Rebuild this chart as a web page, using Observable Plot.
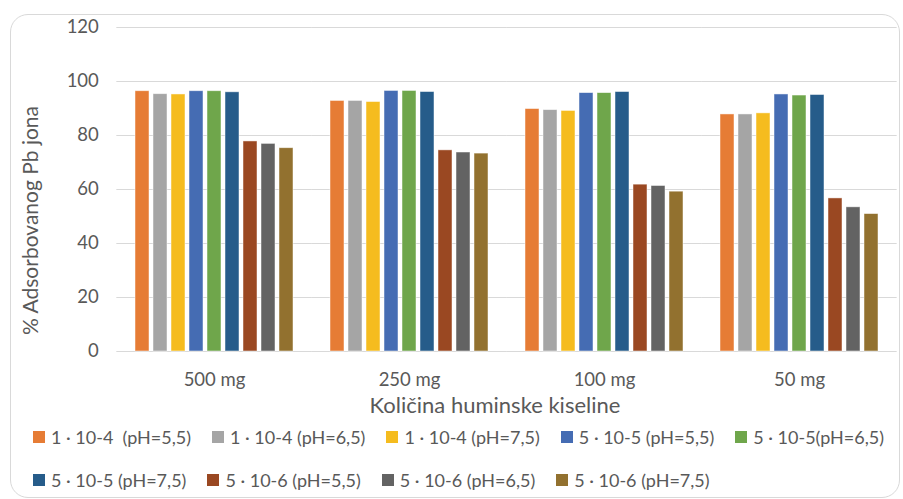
<!DOCTYPE html>
<html>
<head>
<meta charset="utf-8">
<script src="https://cdn.jsdelivr.net/npm/d3@7"></script>
<script src="https://cdn.jsdelivr.net/npm/@observablehq/plot@0.6"></script>
<style>
  html, body { margin: 0; padding: 0; background: #fff; }
  #chart { position: relative; width: 903px; height: 499px; overflow: hidden; font-family: Lato, "Open Sans", sans-serif; color: #595959; }
  #frame { position: absolute; left: 10px; top: 14px; width: 890px; height: 484px; border: 1px solid #d9d9d9; border-radius: 18px; box-sizing: border-box; }
  #chart svg { position: absolute; left: 0; top: 0; }
  #legend { position: absolute; left: 33px; top: 427px; font-size: 18px; }
  .row { display: flex; gap: 21px; height: 20px; align-items: center; margin-bottom: 23px; white-space: pre; }
  .item { display: flex; align-items: center; }
  .sw { width: 12px; height: 12px; margin-right: 6px; }
</style>
</head>
<body>
<div id="chart"><div id="frame"></div></div>
<script>
// Amounts of humic acid (categories along the x axis)
const categories = ["500 mg", "250 mg", "100 mg", "50 mg"];

// Concentration / pH series
const series = [
  "1 · 10-4  (pH=5,5)",
  "1 · 10-4 (pH=6,5)",
  "1 · 10-4 (pH=7,5)",
  "5 · 10-5 (pH=5,5)",
  "5 · 10-5(pH=6,5)",
  "5 · 10-5 (pH=7,5)",
  "5 · 10-6 (pH=5,5)",
  "5 · 10-6 (pH=6,5)",
  "5 · 10-6 (pH=7,5)"
];

const colors = ["#e67c35", "#a5a5a5", "#f5bc1f", "#456cb3", "#6fa64b", "#265c8a", "#9a4822", "#636363", "#92712f"];

// % adsorbed Pb per series, in category order (500, 250, 100, 50 mg)
const s1e4_55 = [96.4, 92.8, 89.8, 87.8];
const s1e4_65 = [95.3, 92.8, 89.4, 87.8];
const s1e4_75 = [95.2, 92.4, 89.1, 88.2];
const s5e5_55 = [96.4, 96.5, 95.7, 95.2];
const s5e5_65 = [96.4, 96.5, 95.7, 94.8];
const s5e5_75 = [96.0, 96.1, 96.1, 95.0];
const s5e6_55 = [77.8, 74.5, 61.8, 56.7];
const s5e6_65 = [76.9, 73.7, 61.3, 53.4];
const s5e6_75 = [75.3, 73.3, 59.2, 50.9];

const yTicks = [0, 20, 40, 60, 80, 100, 120];

const seriesValues = [s1e4_55, s1e4_65, s1e4_75, s5e5_55, s5e5_65, s5e5_75, s5e6_55, s5e6_65, s5e6_75];
const table = seriesValues.flatMap((vals, i) =>
  vals.map((v, j) => ({category: categories[j], series: series[i], value: v}))
);

const textColor = "#595959";

// Layout of the facet bands; gridlines in each facet are stretched over the
// gaps between facets so that they read as continuous lines.
const W = 903, mL = 116, mR = 6;
const fxPadInner = 0.14, fxPadOuter = 0.07;
const fxStep = (W - mL - mR) / (categories.length - fxPadInner + 2 * fxPadOuter);
const gridExtend = fxStep * fxPadInner / 2;

const plot = Plot.plot({
  width: W,
  height: 420,
  marginTop: 27,
  marginBottom: 69,
  marginLeft: mL,
  marginRight: mR,
  style: {fontFamily: "Lato, 'Open Sans', sans-serif", fontSize: "18.5px", color: textColor, background: "transparent", overflow: "visible"},
  fx: {domain: categories, paddingInner: fxPadInner, paddingOuter: fxPadOuter, label: null},
  x: {domain: series, paddingInner: 0.2, paddingOuter: 0.1, axis: null},
  y: {domain: [0, 120]},
  color: {domain: series, range: colors},
  marks: [
    Plot.ruleY(yTicks, {stroke: "#d9d9d9", strokeWidth: 1, insetLeft: -gridExtend, insetRight: -gridExtend}),
    Plot.barY(table, {fx: "category", x: "series", y: "value", fill: "series", stroke: "white", strokeOpacity: 0.6, strokeWidth: 0.8}),
    // the y axis sits on the first facet's edge, so its padding includes the outer gap
    Plot.axisY({ticks: yTicks, tickSize: 0, tickPadding: 18 + gridExtend, label: null}),
    Plot.axisFx({anchor: "bottom", tickSize: 0, tickPadding: 21, label: null}),
    Plot.text(["% Adsorbovanog Pb jona"], {facet: "super", text: d => d, frameAnchor: "left", textAnchor: "middle", lineAnchor: "middle", rotate: -90, dx: -86 - gridExtend, dy: 31, fontSize: 21, fill: textColor}),
    Plot.text(["Količina huminske kiseline"], {facet: "super", text: d => d, frameAnchor: "bottom", textAnchor: "middle", lineAnchor: "middle", dx: -12, dy: 54, fontSize: 22, fill: textColor})
  ]
});

const chart = document.getElementById("chart");
chart.appendChild(plot);

// Legend: two rows, five items then four
const legend = d3.select(chart).append("div").attr("id", "legend");
const rows = [series.slice(0, 5), series.slice(5)];
rows.forEach(r => {
  const row = legend.append("div").attr("class", "row");
  r.forEach(name => {
    const item = row.append("div").attr("class", "item");
    item.append("div").attr("class", "sw").style("background", colors[series.indexOf(name)]);
    item.append("span").text(name);
  });
});
</script>
</body>
</html>
